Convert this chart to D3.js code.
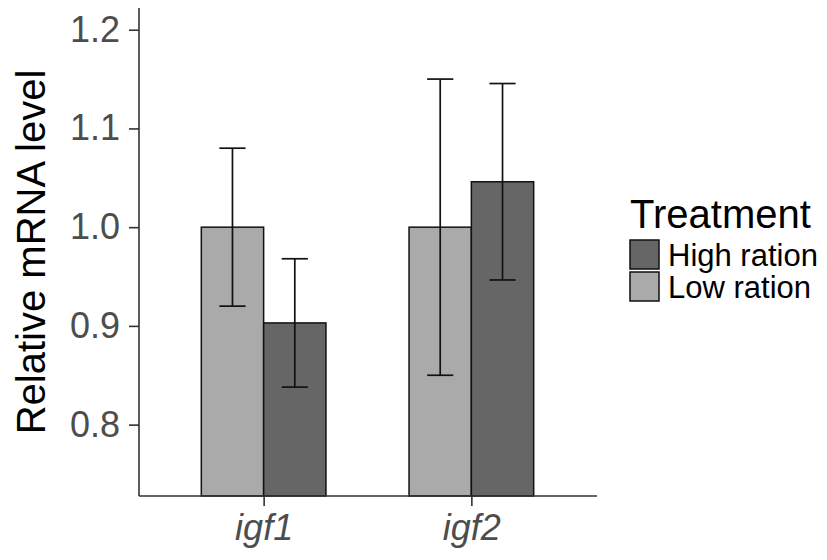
<!DOCTYPE html>
<html>
<head>
<meta charset="utf-8">
<script src="https://cdn.jsdelivr.net/npm/d3@7.9.0/dist/d3.min.js"></script>
<style>
  body { margin: 0; background: #fff; }
  svg { display: block; font-family: "Liberation Sans", Arial, sans-serif; }
</style>
</head>
<body>
<svg width="827" height="560"></svg>
<script>
// data
const genes = ['igf1', 'igf2'];
const treatments = ['Low ration', 'High ration'];
const lowMean = [1.0, 1.0];
const lowErr = [0.08, 0.15];
const highMean = [0.903, 1.046];
const highErr = [0.065, 0.0995];
const yTicks = [0.8, 0.9, 1.0, 1.1, 1.2];
const legendOrder = ['High ration', 'Low ration'];

const colors = { 'Low ration': '#aaaaaa', 'High ration': '#666666' };

const rows = [];
genes.forEach((g, i) => {
    rows.push({ gene: g, treat: 'Low ration', mean: lowMean[i], err: lowErr[i] });
    rows.push({ gene: g, treat: 'High ration', mean: highMean[i], err: highErr[i] });
});

const svg = d3.select('svg');
const plot = { left: 139, right: 596, top: 8, bottom: 496 };

// discrete x with ggplot-like 0.6 expansion
const x = d3.scalePoint()
    .domain(genes)
    .range([plot.left, plot.right])
    .padding(0.6);
const step = x.step();
// dodge width 0.6 of a step
const xSub = d3.scaleBand()
    .domain(treatments)
    .range([-0.3 * step, 0.3 * step]);

const y = d3.scaleLinear()
    .domain([0.7277, 1.222])
    .range([plot.bottom, plot.top]);

// bars (drawn from the panel bottom)
svg.append('g')
    .selectAll('rect')
    .data(rows)
    .join('rect')
    .attr('x', d => x(d.gene) + xSub(d.treat))
    .attr('y', d => y(d.mean))
    .attr('width', xSub.bandwidth())
    .attr('height', d => plot.bottom - y(d.mean))
    .attr('fill', d => colors[d.treat])
    .attr('stroke', '#111')
    .attr('stroke-width', 1.5);

// error bars
const capHalf = xSub.bandwidth() * 0.21;
const eb = svg.append('g')
    .attr('stroke', '#111')
    .attr('stroke-width', 1.7)
    .selectAll('g')
    .data(rows)
    .join('g')
    .attr('transform', d => `translate(${x(d.gene) + xSub(d.treat) + xSub.bandwidth() / 2},0)`);
eb.append('line')
    .attr('y1', d => y(d.mean - d.err))
    .attr('y2', d => y(d.mean + d.err));
eb.append('line')
    .attr('x1', -capHalf).attr('x2', capHalf)
    .attr('y1', d => y(d.mean + d.err))
    .attr('y2', d => y(d.mean + d.err));
eb.append('line')
    .attr('x1', -capHalf).attr('x2', capHalf)
    .attr('y1', d => y(d.mean - d.err))
    .attr('y2', d => y(d.mean - d.err));

// y axis
const yAxis = svg.append('g')
    .attr('transform', `translate(${plot.left},0)`)
    .call(d3.axisLeft(y).tickValues(yTicks).tickFormat(d3.format('.1f')).tickSize(10).tickPadding(9).tickSizeOuter(0));
yAxis.select('.domain').attr('d', `M0,${plot.top}V${plot.bottom}`);

// x axis
const xAxis = svg.append('g')
    .attr('transform', `translate(0,${plot.bottom})`)
    .call(d3.axisBottom(x).tickSize(10).tickPadding(8).tickSizeOuter(0));
xAxis.select('.domain').attr('d', `M${plot.left},0H${plot.right + 1}`);
xAxis.selectAll('text').attr('font-style', 'italic');

svg.selectAll('.domain, .tick line')
    .attr('stroke', '#333')
    .attr('stroke-width', 1.6);
svg.selectAll('.tick text')
    .attr('fill', '#4d4d4d')
    .attr('font-size', 36)
    .attr('font-family', '"Liberation Sans", Arial, sans-serif');

// y label
svg.append('text')
    .attr('transform', `translate(45,${(plot.top + plot.bottom) / 2}) rotate(-90)`)
    .attr('text-anchor', 'middle')
    .attr('font-size', 40)
    .attr('fill', '#000')
    .text('Relative mRNA level');

// legend
const legend = svg.append('g').attr('transform', 'translate(629,228)');
legend.append('text')
    .attr('x', 1)
    .attr('y', 0)
    .attr('font-size', 40)
    .text('Treatment');
const keys = legend.selectAll('g.key')
    .data(legendOrder)
    .join('g')
    .attr('class', 'key')
    .attr('transform', (d, i) => `translate(0,${12 + i * 32})`);
keys.append('rect')
    .attr('x', 1).attr('y', 0)
    .attr('width', 29).attr('height', 29)
    .attr('fill', d => colors[d])
    .attr('stroke', '#111')
    .attr('stroke-width', 1.5);
keys.append('text')
    .attr('x', 39)
    .attr('y', 26)
    .attr('font-size', 31)
    .text(d => d);
</script>
</body>
</html>
